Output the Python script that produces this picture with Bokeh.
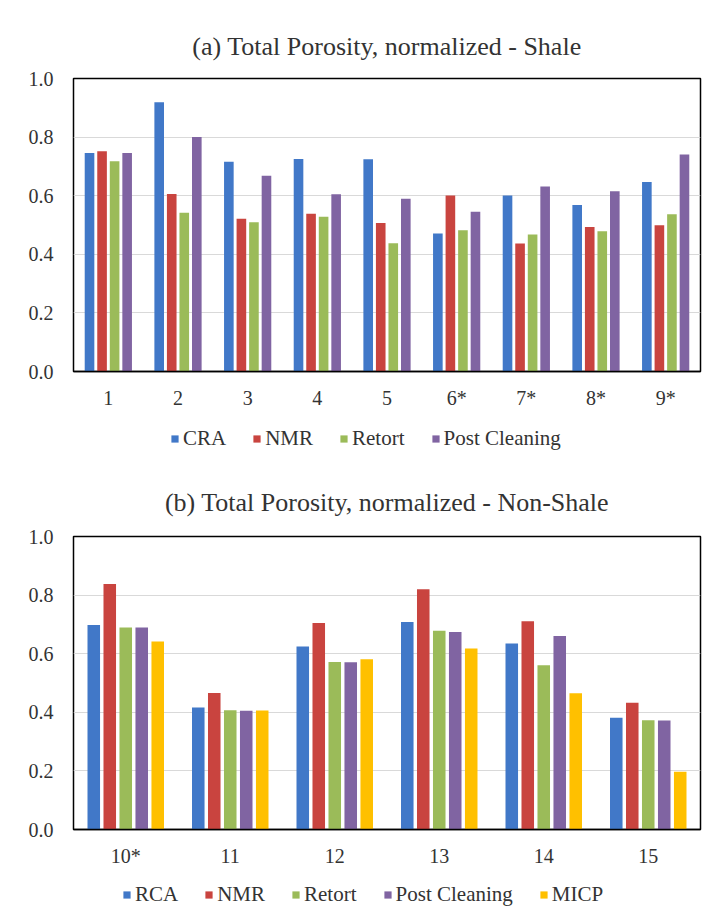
from bokeh.plotting import figure
from bokeh.models import (FactorRange, Legend, LegendItem, FixedTicker,
                          NumeralTickFormatter)
from bokeh.transform import dodge
from bokeh.layouts import column
from bokeh.embed import file_html
from bokeh.resources import INLINE

# ---------------- data ----------------
shale_cats = ["1", "2", "3", "4", "5", "6*", "7*", "8*", "9*"]
cra = [0.746, 0.919, 0.716, 0.725, 0.724, 0.471, 0.601, 0.568, 0.647]
nmr_a = [0.752, 0.606, 0.521, 0.538, 0.507, 0.601, 0.437, 0.493, 0.499]
retort_a = [0.718, 0.542, 0.509, 0.528, 0.438, 0.482, 0.468, 0.479, 0.537]
post_a = [0.746, 0.800, 0.668, 0.605, 0.590, 0.545, 0.631, 0.615, 0.741]

nonshale_cats = ["10*", "11", "12", "13", "14", "15"]
rca = [0.698, 0.416, 0.625, 0.708, 0.635, 0.381]
nmr_b = [0.838, 0.466, 0.705, 0.820, 0.711, 0.433]
retort_b = [0.689, 0.407, 0.572, 0.678, 0.561, 0.373]
post_b = [0.689, 0.405, 0.571, 0.674, 0.660, 0.372]
micp = [0.642, 0.406, 0.581, 0.618, 0.465, 0.197]

y_ticks = [0.0, 0.2, 0.4, 0.6, 0.8, 1.0]

title_a = "(a) Total Porosity, normalized - Shale"
title_b = "(b) Total Porosity, normalized - Non-Shale"

BLUE = "#4178C8"
RED = "#C9443F"
GREEN = "#9BBB59"
PURPLE = "#8064A2"
GOLD = "#FFC000"
FONT = "Liberation Serif"
TXT = "#333333"


def make_panel(cats, series, names, colors, title, height, step, bar_w,
               top_b, bottom_b, right_b, title_standoff):
    p = figure(x_range=FactorRange(*cats), y_range=(0, 1.0),
               width=708, height=height, output_backend="svg",
               toolbar_location=None, title=title,
               min_border_left=73, min_border_right=right_b,
               min_border_top=top_b, min_border_bottom=bottom_b)
    data = {"cat": cats}
    for n, s in zip(names, series):
        data[n] = s
    n_ser = len(series)
    for i, (n, c) in enumerate(zip(names, colors)):
        off = (i - (n_ser - 1) / 2) * step
        p.vbar(x=dodge("cat", off, range=p.x_range), top=n, width=bar_w,
               source=data, fill_color=c, line_color=None)

    p.title.text_font = FONT
    p.title.text_font_size = "26px"
    p.title.text_font_style = "normal"
    p.title.text_color = TXT
    p.title.align = "center"
    p.title.standoff = title_standoff

    p.outline_line_color = "black"
    p.outline_line_width = 1.5
    p.outline_line_alpha = 1.0

    p.xgrid.grid_line_color = None
    p.ygrid.grid_line_color = "#d9d9d9"
    p.ygrid.grid_line_width = 1
    p.ygrid.ticker = FixedTicker(ticks=y_ticks)

    p.yaxis.ticker = FixedTicker(ticks=y_ticks)
    p.yaxis.formatter = NumeralTickFormatter(format="0.0")
    p.yaxis.axis_line_color = None
    p.yaxis.major_tick_line_color = None
    p.yaxis.minor_tick_line_color = None
    p.yaxis.major_label_standoff = 14

    p.xaxis.axis_line_color = "black"
    p.xaxis.axis_line_width = 1.5
    p.xaxis.major_tick_line_color = None
    p.xaxis.minor_tick_line_color = None
    p.xaxis.major_label_standoff = 9

    for ax in (p.xaxis, p.yaxis):
        ax.major_label_text_font = FONT
        ax.major_label_text_font_size = "20px"
        ax.major_label_text_color = TXT
    return p


def make_legend(names, colors, height, leg_x):
    q = figure(width=708, height=height, x_range=(0, 1), y_range=(0, 1),
               x_axis_location=None, y_axis_location=None,
               output_backend="svg", toolbar_location=None,
               min_border_left=0, min_border_right=0,
               min_border_top=0, min_border_bottom=0)
    q.grid.grid_line_color = None
    q.outline_line_color = None
    items = []
    for n, c in zip(names, colors):
        # swatch-only renderer: a zero-height bar, nothing visible in the frame
        r = q.vbar(x=[0.5], top=[0.0], width=0.01, fill_color=c,
                   line_color=None)
        items.append(LegendItem(label=n, renderers=[r]))
    leg = Legend(items=items, orientation="horizontal",
                 location=(leg_x, (height - 24) // 2),
                 label_text_font=FONT, label_text_font_size="21px",
                 label_text_color=TXT, glyph_width=9, glyph_height=9,
                 label_standoff=4, spacing=26, margin=0, padding=0,
                 label_height=24,
                 border_line_color=None, background_fill_alpha=0)
    q.add_layout(leg, "center")
    return q


names_a = ["CRA", "NMR", "Retort", "Post Cleaning"]
colors_a = [BLUE, RED, GREEN, PURPLE]
names_b = ["RCA", "NMR", "Retort", "Post Cleaning", "MICP"]
colors_b = [BLUE, RED, GREEN, PURPLE, GOLD]

pa = make_panel(shale_cats, [cra, nmr_a, retort_a, post_a], names_a,
                colors_a, title_a, 415,
                step=0.18, bar_w=0.138, top_b=78, bottom_b=44, right_b=6,
                title_standoff=36)
la = make_legend(names_a, colors_a, 48, 97)
pb = make_panel(nonshale_cats, [rca, nmr_b, retort_b, post_b, micp], names_b,
                colors_b, title_b, 407,
                step=0.153, bar_w=0.12, top_b=73, bottom_b=41, right_b=8,
                title_standoff=39)
lb = make_legend(names_b, colors_b, 50, 49)

layout = column(pa, la, pb, lb, spacing=0)
open("out.html", "w").write(file_html(layout, INLINE))
